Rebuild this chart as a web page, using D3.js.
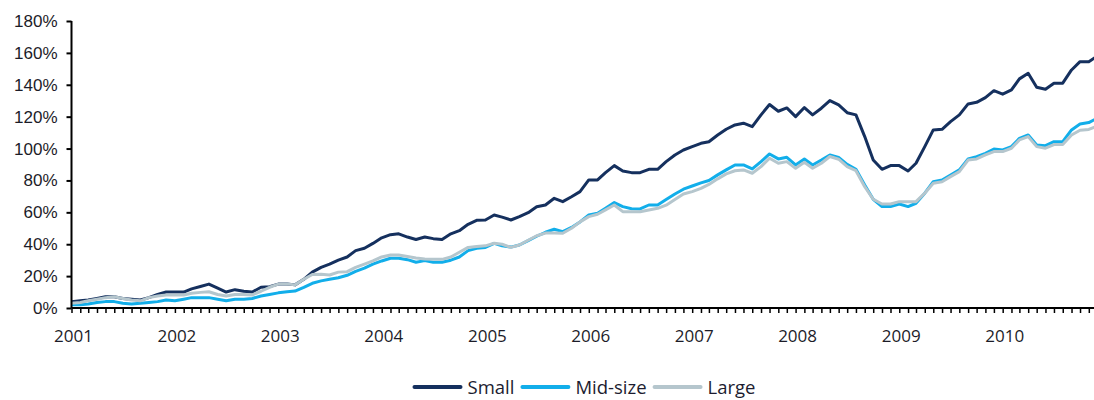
<!DOCTYPE html>
<html>
<head>
<meta charset="utf-8">
<script src="https://cdn.jsdelivr.net/npm/d3@7"></script>
<style>
  body { margin: 0; background: #fff; }
  svg { display: block; font-family: "Open Sans", sans-serif; }
  .axis text { font-size: 17px; fill: #1c1c28; }
</style>
</head>
<body>
<div id="chart"></div>
<script>
const seriesNames = ['Small', 'Mid-size', 'Large'];

const small = [
  4, 4.5, 5, 6, 7, 7, 6, 5.5, 5, 6.5, 8.5, 10,
  10, 10, 12, 13.5, 15, 12.5, 10, 11.5, 10.5, 10, 13, 13.4,
  15, 15, 14.5, 18, 22.5, 25.5, 27.5, 30, 32, 36, 37.5, 40.5,
  44, 46, 46.5, 44.5, 43, 44.5, 43.5, 43, 46.5, 48.5, 52.5, 55,
  55.2, 58.3, 57, 55.2, 57.3, 59.8, 63.5, 64.6, 68.8, 66.7, 69.8, 73,
  80.3, 80.3, 84.9, 89.3, 85.9, 84.9, 84.9, 87, 87, 91.8, 96, 99.1,
  101.2, 103.3, 104.3, 108.5, 112.1, 114.8, 115.9, 113.7, 121.1, 127.6, 123.4, 125.5,
  120, 125.7, 121.1, 125.3, 130.1, 127.4, 122.5, 121.1, 107.5, 92.8, 87, 89.3,
  89.3, 85.9, 90.8, 101.2, 111.7, 112.1, 116.9, 121.1, 128, 129, 131.9, 136.3,
  134.1, 136.8, 143.7, 147.2, 138.5, 137.2, 141, 141, 149.3, 154.5, 154.5, 158
];

const midSize = [
  2, 2, 2.5, 3.5, 4, 4, 3, 2.5, 3, 3.5, 4, 5,
  4.5, 5.5, 6.5, 6.5, 6.5, 5.5, 4.5, 5.5, 5.5, 6, 7.5, 8.5,
  9.5, 10.2, 10.6, 13, 15.5, 17, 18, 19, 20.5, 23, 25, 27.5,
  29.5, 31.2, 31.2, 30.3, 28.7, 29.7, 28.7, 28.7, 30, 32, 36, 37.5,
  38, 40.5, 39, 38.2, 39.5, 42.3, 45, 47.5, 49.4, 47.9, 50.5, 54,
  58.3, 59.4, 62.5, 66.1, 63.6, 62.3, 62.1, 64.6, 64.6, 68, 71.5, 74.5,
  76.5, 78.5, 80, 83.5, 86.6, 89.7, 89.7, 87.2, 91.8, 96.6, 93.5, 94.5,
  89.7, 93.5, 89.7, 92.8, 96, 94.5, 90.1, 87, 77.2, 68.2, 63.6, 63.6,
  65.2, 63.6, 65.7, 72, 79.2, 80.3, 83.4, 86.6, 93.5, 94.9, 97, 99.7,
  99.1, 101.2, 106.4, 108.5, 102.2, 101.8, 104.3, 104.3, 111.7, 115.4, 116.3, 119
];

const large = [
  3, 3.5, 4.5, 5.5, 6.5, 7, 6, 5, 4.5, 6.5, 7.5, 8.2,
  8.2, 8.2, 9.2, 9.8, 10.2, 8.5, 7.5, 8.5, 8.5, 8.2, 10.5, 13,
  15, 15, 14.5, 18, 21, 21.2, 20.7, 22.5, 22.8, 25.5, 27.5, 29.5,
  32, 33.2, 33.2, 32.3, 31.3, 30.8, 30.5, 30.5, 32, 35, 38, 38.5,
  39, 40.6, 40, 38, 39.5, 42.5, 45.3, 47, 47, 46.9, 50, 54,
  57.3, 58.8, 61.5, 64.6, 60.4, 60.4, 60.4, 61.5, 62.5, 64.5, 68, 71.5,
  73, 75, 77.5, 81, 84.1, 86.1, 86.6, 84.5, 88.7, 93.9, 90.8, 91.8,
  87.6, 91.4, 87.6, 90.8, 95, 93.3, 88.7, 86.1, 76.1, 68.2, 65.2, 65.2,
  66.7, 66.7, 66.7, 72, 78.2, 79.2, 82.4, 85.5, 92.8, 93.5, 96, 98.1,
  98.1, 100.2, 105.4, 107.5, 101.2, 100.2, 102.5, 102.5, 108.5, 111.5, 112, 114
];

const yearLabels = ['2001', '2002', '2003', '2004', '2005', '2006', '2007', '2008', '2009', '2010'];
const yTicks = [0, 20, 40, 60, 80, 100, 120, 140, 160, 180];

const months = d3.timeMonth.range(new Date(2001, 0, 1), new Date(2011, 0, 1));

const colors = { 'Small': '#15305e', 'Mid-size': '#12aeea', 'Large': '#b5c6cd' };
const values = { 'Small': small, 'Mid-size': midSize, 'Large': large };

const width = 1094, height = 400;
const plot = { left: 71.5, right: 1097.3, top: 21, bottom: 308 };

const svg = d3.select('#chart').append('svg')
    .attr('width', width)
    .attr('height', height);

const x = d3.scaleTime()
    .domain([months[0], months[months.length - 1]])
    .range([plot.left, plot.right]);

const y = d3.scaleLinear()
    .domain([0, 180])
    .range([plot.bottom, plot.top]);

// lines
const line = d3.line()
    .x((d, i) => x(months[i]))
    .y(d => y(d));

seriesNames.forEach(name => {
    svg.append('path')
        .datum(values[name])
        .attr('fill', 'none')
        .attr('stroke', colors[name])
        .attr('stroke-width', 3)
        .attr('stroke-linejoin', 'round')
        .attr('d', line);
});

// y axis
const yAxis = svg.append('g')
    .attr('class', 'axis')
    .attr('transform', `translate(${plot.left},0)`)
    .call(d3.axisLeft(y).tickValues(yTicks).tickFormat(d => d + '%').tickSize(5).tickPadding(9));
yAxis.select('.domain').attr('stroke', '#000').attr('stroke-width', 2).attr('d', `M0,${plot.top}V${plot.bottom}`);
yAxis.selectAll('.tick line').attr('stroke', '#000').attr('stroke-width', 2);

// x axis with monthly ticks
const xAxis = svg.append('g')
    .attr('class', 'axis')
    .attr('transform', `translate(0,${plot.bottom})`)
    .call(d3.axisBottom(x).ticks(d3.timeMonth.every(1)).tickFormat('').tickSize(5));
xAxis.select('.domain').attr('stroke', '#000').attr('stroke-width', 2).attr('d', `M${plot.left},0H${width}`);
xAxis.selectAll('.tick line').attr('stroke', '#000').attr('stroke-width', 1.5);

svg.append('g')
    .attr('class', 'axis')
    .selectAll('text')
    .data(yearLabels)
  .enter().append('text')
    .attr('x', d => x(new Date(+d, 0, 1)) + 2)
    .attr('y', 342)
    .attr('text-anchor', 'middle')
    .text(d => d);

// legend
const legend = svg.append('g').attr('transform', 'translate(0,387)');
const lgItems = legend.selectAll('g')
    .data(seriesNames)
  .enter().append('g');
lgItems.append('line')
    .attr('x1', 0).attr('x2', 46)
    .attr('stroke', d => colors[d])
    .attr('stroke-width', 4)
    .attr('stroke-linecap', 'round');
lgItems.append('text')
    .attr('x', 53)
    .attr('y', 7)
    .style('font-size', '18.5px')
    .style('fill', '#1c1c30')
    .text(d => d);

let offset = 0;
const widths = [];
lgItems.each(function() {
    const w = 53 + d3.select(this).select('text').node().getComputedTextLength();
    widths.push(w);
});
const total = d3.sum(widths) + 8 * (widths.length - 1);
let start = 585 - total / 2;
lgItems.attr('transform', (d, i) => {
    const t = `translate(${start + offset},0)`;
    offset += widths[i] + 8;
    return t;
});
</script>
</body>
</html>
